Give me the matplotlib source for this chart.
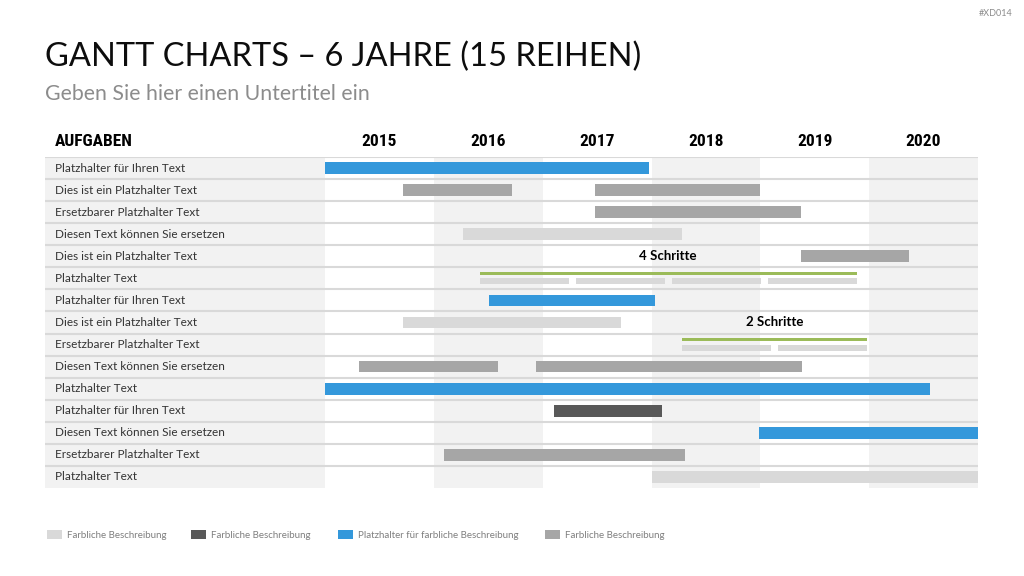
import matplotlib
matplotlib.use("Agg")
import matplotlib.pyplot as plt
from matplotlib import font_manager
from matplotlib.patches import Rectangle

# ---------------- data ----------------
title = "GANTT CHARTS – 6 JAHRE (15 REIHEN)"
subtitle = "Geben Sie hier einen Untertitel ein"
code_label = "#XD014"
header_label = "AUFGABEN"
years = [2015, 2016, 2017, 2018, 2019, 2020]
tasks = [
    "Platzhalter für Ihren Text",
    "Dies ist ein Platzhalter Text",
    "Ersetzbarer Platzhalter Text",
    "Diesen Text können Sie ersetzen",
    "Dies ist ein Platzhalter Text",
    "Platzhalter Text",
    "Platzhalter für Ihren Text",
    "Dies ist ein Platzhalter Text",
    "Ersetzbarer Platzhalter Text",
    "Diesen Text können Sie ersetzen",
    "Platzhalter Text",
    "Platzhalter für Ihren Text",
    "Diesen Text können Sie ersetzen",
    "Ersetzbarer Platzhalter Text",
    "Platzhalter Text",
]
# main bars: row index, start, end (in years), colour kind
bar_rows   = [0, 1, 1, 2, 3, 4, 6, 7, 9, 9, 10, 11, 12, 13, 14]
bar_starts = [2015.0, 2015.72, 2017.48, 2017.48, 2016.27, 2019.37, 2016.51, 2015.72,
              2015.31, 2016.94, 2015.0, 2017.10, 2018.99, 2016.09, 2018.0]
bar_ends   = [2017.98, 2016.72, 2019.0, 2019.37, 2018.28, 2020.37, 2018.03, 2017.72,
              2016.59, 2019.38, 2020.56, 2018.10, 2021.0, 2018.31, 2021.0]
bar_kinds  = ["blue", "mid", "mid", "mid", "light", "mid", "blue", "light",
              "mid", "mid", "blue", "dark", "blue", "mid", "light"]

# step phases (green line + sub-steps)
phase_rows   = [5, 8]
phase_starts = [2016.42, 2018.28]
phase_ends   = [2019.89, 2019.98]
phase_steps  = [4, 2]
phase_labels = ["4 Schritte", "2 Schritte"]
phase_label_rows = [4, 7]
phase_label_x = [2018.15, 2019.13]

legend_kinds = ["light", "dark", "blue", "mid"]
legend_labels = ["Farbliche Beschreibung", "Farbliche Beschreibung",
                 "Platzhalter für farbliche Beschreibung", "Farbliche Beschreibung"]

colors = {"blue": "#3498db", "mid": "#a6a6a6", "light": "#d9d9d9",
          "dark": "#595959", "green": "#9bbb59"}

# ---------------- figure ----------------
W, H = 1024, 576
fig = plt.figure(figsize=(W / 100, H / 100), dpi=100)
fig.patch.set_facecolor("white")

def fx(px):
    return px / W

def fy(py):
    return 1 - py / H

body_font = ["Lato", "DejaVu Sans"]
installed = {f.name for f in font_manager.fontManager.ttflist}
narrow = [f for f in ["Liberation Sans Narrow", "Roboto Condensed", "DejaVu Sans"]
          if f in installed]
narrow_name = narrow[0] if narrow else "DejaVu Sans"

fig.text(fx(45), fy(57), title, fontsize=23.5, family=body_font, weight="normal",
         color="#0d0d0d", va="center", ha="left")
fig.text(fx(45), fy(94), subtitle, fontsize=15.3, family=body_font, weight="normal",
         color="#8c8c8c", va="center", ha="left")
fig.text(fx(1013), fy(13), code_label, fontsize=6.5, family=body_font,
         color="#8c8c8c", va="center", ha="right")

# chart axes: left 45 .. right 978, top 157 .. bottom 488
left_px, right_px, top_px, bot_px = 45, 978, 157, 488
ax = fig.add_axes([fx(left_px), fy(bot_px), fx(right_px - left_px), (bot_px - top_px) / H])
x0 = years[0]
year_w = (right_px - 325) / len(years)
xmin = x0 - (325 - left_px) / year_w
xmax = years[-1] + 1
n = len(tasks)
ax.set_xlim(xmin, xmax)
ax.set_ylim(n, 0)
ax.axis("off")

# column stripes
ax.axvspan(xmin, x0, color="#f2f2f2", lw=0, zorder=0)
for i, y in enumerate(years):
    if i % 2 == 1:
        ax.axvspan(y, y + 1, color="#f2f2f2", lw=0, zorder=0)

# row separators
for i in range(n):
    ax.axhline(i, color="#d9d9d9", lw=1.5, zorder=1)

# task labels
for i, t in enumerate(tasks):
    ax.text(xmin + 10 / year_w, i + 0.5, t, fontsize=8.5, family=body_font,
            color="#333333", va="center", ha="left", zorder=3)

# header
hdr_font = dict(family=narrow_name, fontstretch="condensed", weight="bold",
                fontsize=12.5, color="#000000", va="center")
fig.text(fx(55), fy(142), header_label, ha="left", **hdr_font)
for y in years:
    xc = (y + 0.5 - xmin) / (xmax - xmin) * (right_px - left_px) + left_px
    fig.text(fx(xc), fy(142), str(y), ha="center", **hdr_font)

# bars
bh = 0.53
for r, s, e, k in zip(bar_rows, bar_starts, bar_ends, bar_kinds):
    ax.add_patch(Rectangle((s, r + 0.5 - bh / 2), e - s, bh,
                           facecolor=colors[k], edgecolor="none", zorder=2))

# phases
gap = 7 / year_w
for r, s, e, k in zip(phase_rows, phase_starts, phase_ends, phase_steps):
    ax.add_patch(Rectangle((s, r + 0.22), e - s, 0.14,
                           facecolor=colors["green"], edgecolor="none", zorder=2))
    seg = (e - s - gap * (k - 1)) / k
    for j in range(k):
        ss = s + j * (seg + gap)
        ax.add_patch(Rectangle((ss, r + 0.5), seg, 0.27,
                               facecolor=colors["light"], edgecolor="none", zorder=2))

for lbl, r, x in zip(phase_labels, phase_label_rows, phase_label_x):
    ax.text(x, r + 0.5, lbl, fontsize=9.5, family=body_font, weight="bold",
            color="#000000", ha="center", va="center", zorder=3)

# legend
leg_x = [47, 191, 338, 545]
for px, k, lbl in zip(leg_x, legend_kinds, legend_labels):
    fig.patches.append(Rectangle((fx(px), fy(539)), 15 / W, 9 / H,
                                 transform=fig.transFigure, facecolor=colors[k],
                                 edgecolor="none"))
    fig.text(fx(px + 20), fy(535), lbl, fontsize=7, family=body_font,
             color="#7f7f7f", va="center", ha="left")

fig.savefig("out.png", dpi=100, facecolor="white")
